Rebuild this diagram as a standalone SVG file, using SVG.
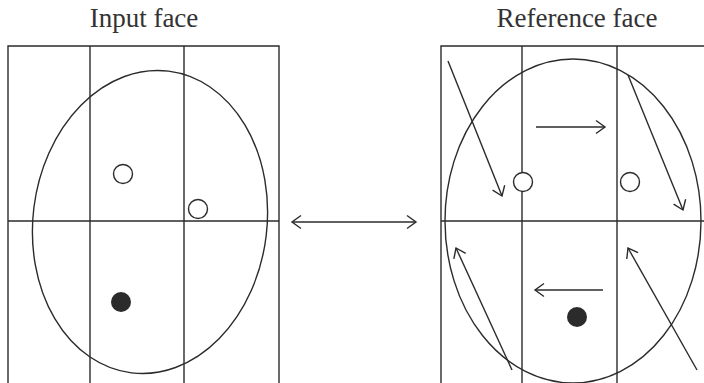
<svg xmlns="http://www.w3.org/2000/svg" width="704" height="383" viewBox="0 0 704 383">
<defs>
<style>
.ln{stroke:#2b2b2b;stroke-width:1.4;fill:none}
.oc{stroke:#2b2b2b;stroke-width:1.4;fill:#fff}
.fc{fill:#2b2b2b}
.t{font-family:"Liberation Serif",serif;font-size:27px;fill:#333;text-anchor:middle}
.ar{stroke:#2b2b2b;stroke-width:1.4;fill:none;marker-end:url(#h)}
</style>
<marker id="h" markerUnits="userSpaceOnUse" markerWidth="14" markerHeight="16" refX="10" refY="7.5" orient="auto-start-reverse" viewBox="0 0 14 15">
<path d="M1,1 L10,7.5 L1,14" fill="none" stroke="#2b2b2b" stroke-width="1.4"/>
</marker>
</defs>
<rect width="704" height="383" fill="#fff"/>
<g id="input-face">
<text class="t" x="144" y="27">Input face</text>
<path class="ln" d="M8,390 V46 H279 V390 M90,46 V390 M184,46 V390 M8,221 H279"/>
<ellipse class="ln" cx="150" cy="222" rx="117" ry="152" transform="rotate(7 150 222)"/>
<circle class="oc" cx="123" cy="174" r="9.5"/>
<circle class="oc" cx="198" cy="209" r="9.5"/>
<circle class="fc" cx="121" cy="302" r="10"/>
</g>
<g id="reference-face">
<text class="t" x="577" y="27">Reference face</text>
<path class="ln" d="M441,390 V46 H704 M522,46 V390 M617,46 V390 M441,221 H704"/>
<ellipse class="ln" cx="573" cy="221" rx="128" ry="162"/>
<circle class="oc" cx="523" cy="182" r="9.5"/>
<circle class="oc" cx="630" cy="182" r="9.5"/>
<circle class="fc" cx="577" cy="317" r="10"/>
</g>
<g id="connectors">
<line class="ar" x1="292" y1="222" x2="416" y2="222" style="marker-start:url(#h)"/>
<line class="ar" x1="448" y1="61" x2="502" y2="196"/>
<line class="ar" x1="536" y1="127" x2="605" y2="127"/>
<line class="ar" x1="628" y1="75" x2="683" y2="210"/>
<line class="ar" x1="512" y1="370" x2="456" y2="248"/>
<line class="ar" x1="603" y1="290" x2="535" y2="290"/>
<line class="ar" x1="697" y1="370" x2="628" y2="248"/>
</g>
</svg>
